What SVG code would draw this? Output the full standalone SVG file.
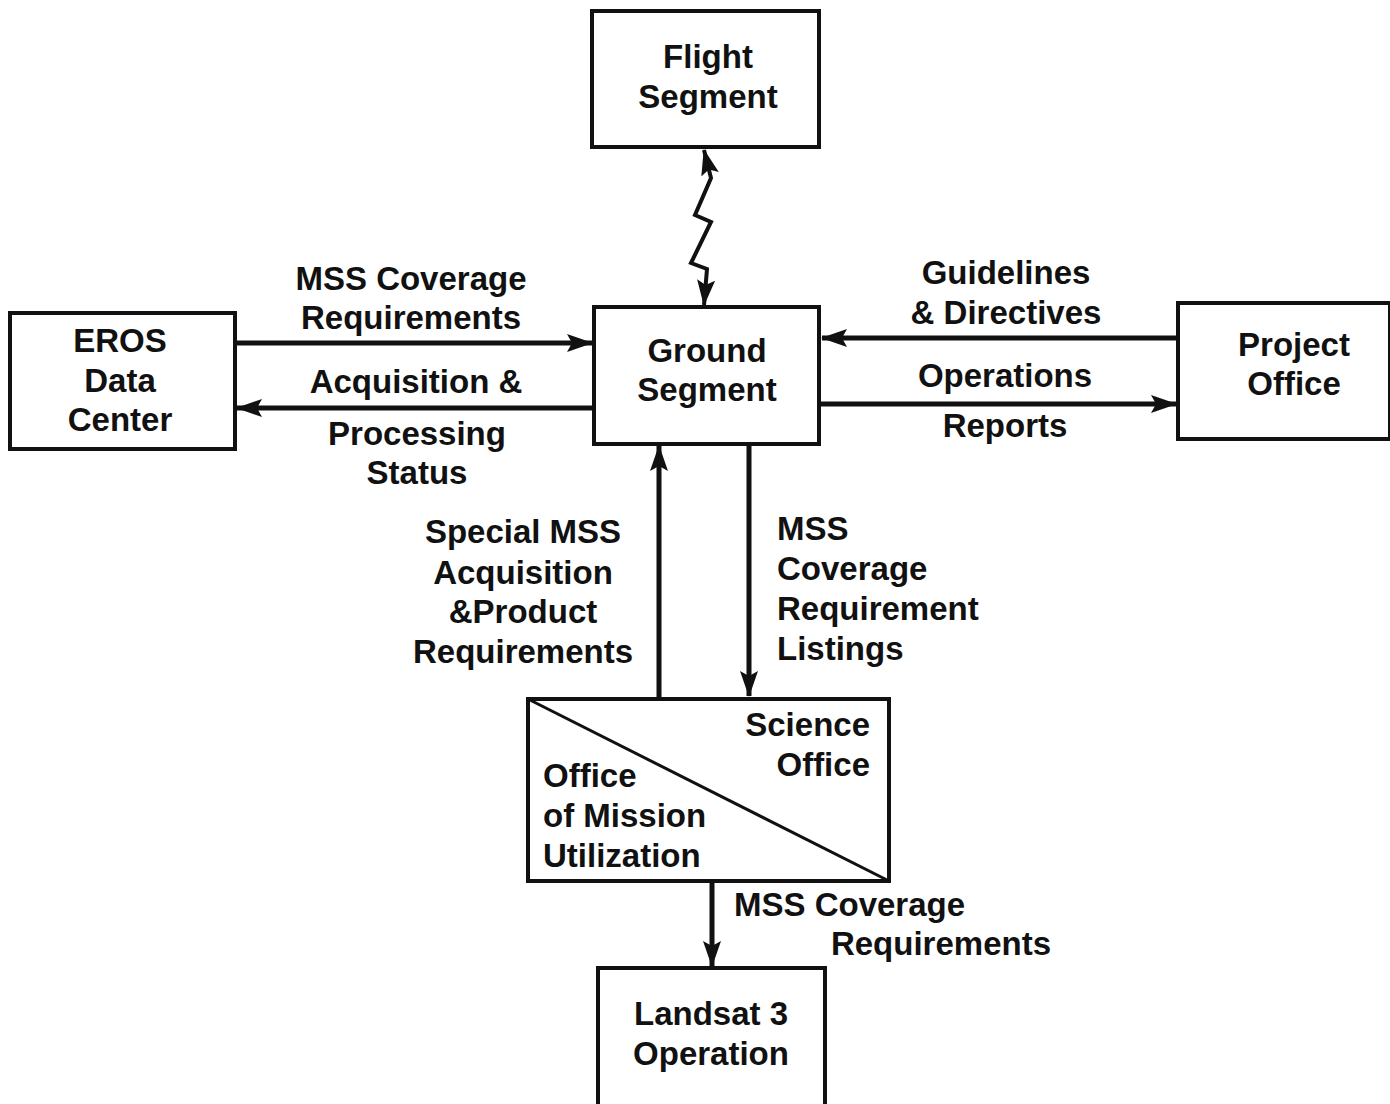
<svg xmlns="http://www.w3.org/2000/svg" width="1390" height="1104" viewBox="0 0 1390 1104">
<style>
.box{fill:#fff;stroke:#111;stroke-width:4}
.t{font-family:"Liberation Sans",Arial,sans-serif;font-weight:bold;font-size:33px;fill:#111}
.c{text-anchor:middle}
.r{text-anchor:end}
.ln{stroke:#111;stroke-width:5;fill:none}
</style>
<defs>
<marker id="ah" viewBox="0 0 26 18" refX="25" refY="9" markerWidth="26" markerHeight="18" markerUnits="userSpaceOnUse" orient="auto-start-reverse">
<path d="M0,0 L26,9 L0,18 L5,9 Z" fill="#111"/>
</marker>
</defs>
<rect width="1390" height="1104" fill="#fff"/>
<g id="connectors">
<path class="ln" d="M235,343 L592,343" marker-end="url(#ah)"/>
<path class="ln" d="M594,408 L237,408" marker-end="url(#ah)"/>
<path class="ln" d="M1178,338 L822,338" marker-end="url(#ah)"/>
<path class="ln" d="M820,404 L1176,404" marker-end="url(#ah)"/>
<path class="ln" d="M659,698 L659,446" marker-end="url(#ah)"/>
<path class="ln" d="M749,444 L749,696" marker-end="url(#ah)"/>
<path class="ln" d="M712,881 L712,966" marker-end="url(#ah)"/>
<path d="M704,150 L711,178 L695,215 L711,222 L691,263 L707,269 L704,305" fill="none" stroke="#111" stroke-width="4" stroke-linejoin="miter" marker-start="url(#ah)" marker-end="url(#ah)"/>
</g>
<g id="flight">
<rect class="box" x="592" y="11" width="227" height="136"/>
<text class="t c" x="708" y="68">Flight</text>
<text class="t c" x="708" y="108">Segment</text>
</g>
<g id="ground">
<rect class="box" x="594" y="307" width="225" height="137"/>
<text class="t c" x="707" y="362">Ground</text>
<text class="t c" x="707" y="401">Segment</text>
</g>
<g id="eros">
<rect class="box" x="10" y="313" width="225" height="136"/>
<text class="t c" x="120" y="352">EROS</text>
<text class="t c" x="120" y="392">Data</text>
<text class="t c" x="120" y="431">Center</text>
</g>
<g id="project">
<rect class="box" x="1178" y="303" width="212" height="136"/>
<text class="t c" x="1294" y="356">Project</text>
<text class="t c" x="1294" y="395">Office</text>
</g>
<g id="science">
<rect class="box" x="528" y="699" width="361" height="182"/>
<line x1="528" y1="699" x2="889" y2="881" stroke="#111" stroke-width="3"/>
<text class="t r" x="870" y="736">Science</text>
<text class="t r" x="870" y="776">Office</text>
<text class="t" x="543" y="787">Office</text>
<text class="t" x="543" y="827">of Mission</text>
<text class="t" x="543" y="867">Utilization</text>
</g>
<g id="landsat">
<rect class="box" x="598" y="968" width="227" height="150"/>
<text class="t c" x="711" y="1025">Landsat 3</text>
<text class="t c" x="711" y="1065">Operation</text>
</g>
<g id="labels">
<text class="t c" x="411" y="290">MSS Coverage</text>
<text class="t c" x="411" y="329">Requirements</text>
<text class="t c" x="416" y="393">Acquisition &amp;</text>
<text class="t c" x="417" y="445">Processing</text>
<text class="t c" x="417" y="484">Status</text>
<text class="t c" x="1006" y="284">Guidelines</text>
<text class="t c" x="1006" y="324">&amp; Directives</text>
<text class="t c" x="1005" y="387">Operations</text>
<text class="t c" x="1005" y="437">Reports</text>
<text class="t c" x="523" y="543">Special MSS</text>
<text class="t c" x="523" y="584">Acquisition</text>
<text class="t c" x="523" y="623">&amp;Product</text>
<text class="t c" x="523" y="663">Requirements</text>
<text class="t" x="777" y="540">MSS</text>
<text class="t" x="777" y="580">Coverage</text>
<text class="t" x="777" y="620">Requirement</text>
<text class="t" x="777" y="660">Listings</text>
<text class="t" x="734" y="916">MSS Coverage</text>
<text class="t r" x="1051" y="955">Requirements</text>
</g>
</svg>
